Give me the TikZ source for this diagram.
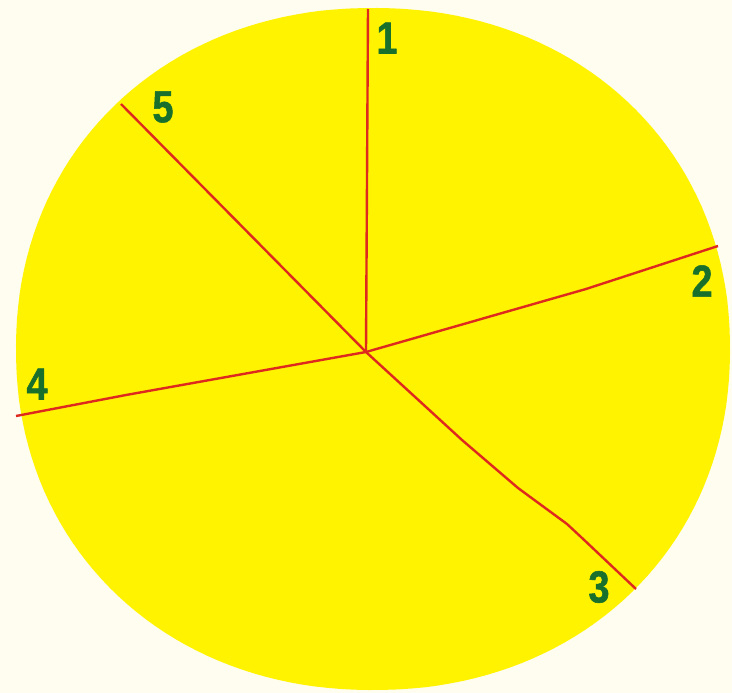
\documentclass[tikz,border=0pt]{standalone}
\usepackage{fontspec}
\newfontfamily\labfont[FakeStretch=0.84,FakeBold=1.2]{Liberation Sans}
\definecolor{bgcream}{RGB}{255,253,240}
\definecolor{discyellow}{RGB}{255,243,0}
\definecolor{linered}{RGB}{222,42,30}
\definecolor{labgreen}{RGB}{24,112,44}
\tikzset{
  radial/.style={draw=linered, line width=2.4pt, line join=round},
  numlabel/.style={text=labgreen, font=\labfont\bfseries\fontsize{45}{45}\selectfont, inner sep=0pt, anchor=center}
}
\begin{document}
\begin{tikzpicture}[x=1pt,y=-1pt]
\fill[bgcream] (0,0) rectangle (732,693);
\useasboundingbox (0,0) rectangle (732,693);
% disc (slightly squarish superellipse)
\fill[discyellow] plot[domain=0.5:360.5, samples=181, variable=\t]
  ({373+357*sign(cos(\t))*pow(abs(cos(\t)),0.952)},
   {349+341*sign(sin(\t))*pow(abs(sin(\t)),0.952)}) -- cycle;
% coordinates
\coordinate (c) at (366,352);
\coordinate (e1) at (368,9);
\coordinate (k2) at (586,289);
\coordinate (e2) at (718,246);
\coordinate (k3a) at (462,440);
\coordinate (k3b) at (518,488);
\coordinate (k3c) at (567,524);
\coordinate (k3d) at (581,537);
\coordinate (e3) at (636,589);
\coordinate (k4) at (126,395);
\coordinate (e4) at (16,416);
\coordinate (e5) at (121,104);
% radial lines
\draw[radial] (c) -- (e1);
\draw[radial] (c) -- (k2) -- (e2);
\draw[radial] (c) -- (k3a) -- (k3b) -- (k3c) -- (k3d) -- (e3);
\draw[radial] (c) -- (k4) -- (e4);
\draw[radial] (c) -- (e5);
% labels
\node[numlabel] (l1) at (387,38) {1};
\node[numlabel] (l2) at (702,281) {2};
\node[numlabel] (l3) at (599,587) {3};
\node[numlabel] (l4) at (37,384) {4};
\node[numlabel] (l5) at (163,107) {5};
\end{tikzpicture}
\end{document}
